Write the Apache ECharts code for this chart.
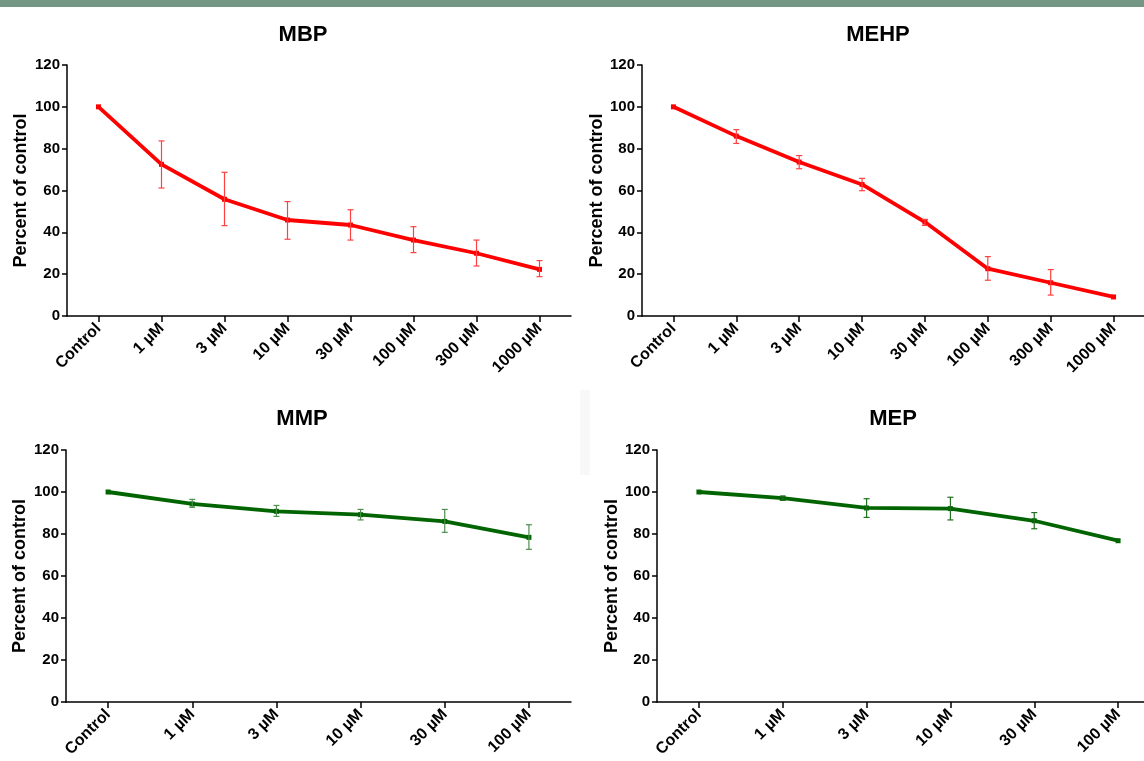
<!DOCTYPE html>
<html>
<head>
<meta charset="utf-8">
<script src="https://cdn.jsdelivr.net/npm/echarts@6/dist/echarts.min.js"></script>
<style>
html,body{margin:0;padding:0;background:#fff;overflow:hidden;width:1144px;height:761px;}
#chart{width:1170px;height:761px;}
</style>
</head>
<body>
<div id="chart"></div>
<script>
// ---- data ----
const catsLong = ['Control', '1 µM', '3 µM', '10 µM', '30 µM', '100 µM', '300 µM', '1000 µM'];
const catsShort = ['Control', '1 µM', '3 µM', '10 µM', '30 µM', '100 µM'];
const yTicks = [0, 20, 40, 60, 80, 100, 120];

const mbpMean = [100, 72.5, 55.8, 45.9, 43.5, 36.3, 30.0, 22.3];
const mbpLow  = [null, 61.2, 43.2, 36.7, 36.3, 30.3, 23.9, 18.8];
const mbpHigh = [null, 83.7, 68.7, 54.7, 50.8, 42.7, 36.3, 26.5];

const mehpMean = [100, 86.0, 73.6, 62.9, 44.9, 22.6, 15.9, 9.1];
const mehpLow  = [null, 82.5, 70.4, 59.9, 43.3, 17.1, 10.0, null];
const mehpHigh = [null, 89.1, 76.7, 65.8, 46.2, 28.4, 22.2, null];

const mmpMean = [100, 94.3, 90.8, 89.2, 86.0, 78.4];
const mmpLow  = [null, 92.7, 88.4, 86.7, 80.8, 72.7];
const mmpHigh = [null, 96.5, 93.6, 91.7, 91.7, 84.4];

const mepMean = [100, 97.1, 92.4, 92.1, 86.3, 76.8];
const mepLow  = [null, 96.0, 87.9, 86.7, 82.5, null];
const mepHigh = [null, 98.0, 96.8, 97.5, 90.2, null];

const titles = ['MBP', 'MEHP', 'MMP', 'MEP'];
const yName = 'Percent of control';

// ---- chart ----
const FONT = 'Arial, "Liberation Sans", sans-serif';
const RED = '#ff0000', GREEN = '#006400';

function errData(lo, hi) {
  const out = [];
  lo.forEach((v, i) => { if (v !== null && hi[i] !== null) out.push([i, v, hi[i]]); });
  return out;
}

function errRender(color) {
  return function (params, api) {
    const i = api.value(0);
    const a = api.coord([i, api.value(1)]);
    const b = api.coord([i, api.value(2)]);
    const w = 3;
    const st = { stroke: color, lineWidth: 1.2 };
    return {
      type: 'group',
      children: [
        { type: 'line', shape: { x1: a[0], y1: a[1], x2: b[0], y2: b[1] }, style: st },
        { type: 'line', shape: { x1: a[0] - w, y1: a[1], x2: a[0] + w, y2: a[1] }, style: st },
        { type: 'line', shape: { x1: b[0] - w, y1: b[1], x2: b[0] + w, y2: b[1] }, style: st }
      ]
    };
  };
}

const grids = [
  { left: 67, top: 65, width: 504, height: 251 },
  { left: 642, top: 65, width: 503, height: 251 },
  { left: 66, top: 450, width: 505, height: 252 },
  { left: 657, top: 450, width: 503, height: 252 }
];

const axisLineStyle = { color: '#000', width: 1.5 };

function xAx(idx, cats) {
  return {
    type: 'category', gridIndex: idx, data: cats, boundaryGap: true,
    axisLine: { show: true, lineStyle: axisLineStyle },
    axisTick: { show: true, alignWithLabel: true, length: 6, lineStyle: axisLineStyle },
    axisLabel: { rotate: 45, interval: 0, margin: 10, color: '#000', fontWeight: 'bold', fontSize: 16, fontFamily: FONT },
    splitLine: { show: false }
  };
}
function yAx(idx, gap) {
  return {
    type: 'value', gridIndex: idx, min: yTicks[0], max: yTicks[yTicks.length - 1], interval: yTicks[1] - yTicks[0],
    name: yName, nameLocation: 'middle', nameGap: gap, nameRotate: 90,
    nameTextStyle: { color: '#000', fontWeight: 'bold', fontSize: 18, fontFamily: FONT },
    axisLine: { show: true, lineStyle: axisLineStyle },
    axisTick: { show: true, length: 5, lineStyle: axisLineStyle },
    axisLabel: { margin: 7, color: '#000', fontWeight: 'bold', fontSize: 15, fontFamily: FONT },
    splitLine: { show: false }
  };
}

function lineSeries(idx, data, color) {
  return {
    type: 'line', xAxisIndex: idx, yAxisIndex: idx, data: data,
    symbol: 'rect', symbolSize: 5, showSymbol: true,
    lineStyle: { color: color, width: 3.8 }, itemStyle: { color: color },
    animation: false, z: 3
  };
}
function errSeries(idx, lo, hi, color) {
  return {
    type: 'custom', xAxisIndex: idx, yAxisIndex: idx, data: errData(lo, hi),
    renderItem: errRender(color), animation: false, z: 4,
    encode: { x: 0, y: [1, 2] }
  };
}

const titlePos = [
  { left: 298, top: 19 }, { left: 873, top: 19 }, { left: 297, top: 403 }, { left: 888, top: 403 }
];

const chart = echarts.init(document.getElementById('chart'), null, { renderer: 'canvas' });
chart.setOption({
  backgroundColor: '#fff',
  animation: false,
  graphic: [
    { type: 'rect', shape: { x: 0, y: 0, width: 1170, height: 7 }, style: { fill: '#749785' } },
    { type: 'rect', shape: { x: 580, y: 390, width: 10, height: 85 }, style: { fill: '#f8f8f8' } }
  ],
  title: titles.map((t, i) => ({
    text: t, left: titlePos[i].left, top: titlePos[i].top, textAlign: 'center',
    textStyle: { color: '#000', fontWeight: 'bold', fontSize: 22, fontFamily: FONT }
  })),
  grid: grids,
  xAxis: [xAx(0, catsLong), xAx(1, catsLong), xAx(2, catsShort), xAx(3, catsShort)],
  yAxis: [yAx(0, 37), yAx(1, 35), yAx(2, 37), yAx(3, 35)],
  series: [
    lineSeries(0, mbpMean, RED), errSeries(0, mbpLow, mbpHigh, '#ff4040'),
    lineSeries(1, mehpMean, RED), errSeries(1, mehpLow, mehpHigh, '#ff4040'),
    lineSeries(2, mmpMean, GREEN), errSeries(2, mmpLow, mmpHigh, '#4d8f4d'),
    lineSeries(3, mepMean, GREEN), errSeries(3, mepLow, mepHigh, '#1f6f1f')
  ]
});
</script>
</body>
</html>
